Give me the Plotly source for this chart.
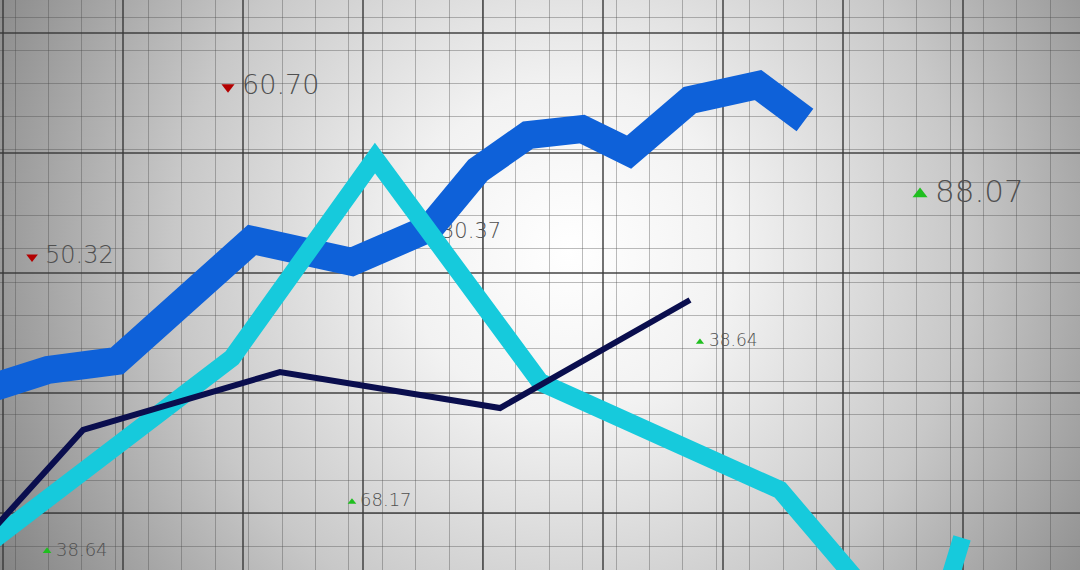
import base64
import plotly.graph_objects as go

# ---- data (chart units) ----
blue_x = [-1.25, 3.75, 9.5, 20.75, 29.08, 35.58, 39.58, 43.75, 48.25, 52.17, 57.25, 62.92, 66.83]
blue_y = [20.33, 21.92, 22.67, 32.75, 30.92, 33.75, 38.58, 41.5, 42.0, 40.08, 44.42, 45.67, 42.75]

cyan_x = [-1.25, 7.25, 19.08, 31.0, 44.75, 64.75, 76.83, 79.92]
cyan_y = [7.42, 14.0, 22.92, 39.58, 20.92, 11.92, -2.25, 7.92]

navy_x = [-1.25, 6.67, 23.08, 41.42, 57.25]
navy_y = [8.17, 16.92, 21.75, 18.75, 27.75]

label_text = ["60.70", "88.07", "50.32", "30.37", "38.64", "68.17", "38.64"]
label_dir = ["down", "up", "down", "up", "up", "up", "up"]
label_x = [19.92, 77.67, 3.5, 36.5, 58.83, 29.75, 4.42]
label_y = [45.5, 36.58, 31.33, 33.33, 24.25, 10.92, 6.83]
marker_x = [18.75, 76.42, 2.42, 35.75, 58.08, 29.08, 3.67]
label_size = [27, 31, 24, 21, 17, 18, 18]

# ---- background radial gradient ----
svg = (
    '<svg xmlns="http://www.w3.org/2000/svg" width="1080" height="570" viewBox="0 0 1080 570">'
    '<defs><radialGradient id="g" cx="570" cy="250" r="660" gradientUnits="userSpaceOnUse">'
    '<stop offset="0" stop-color="#ffffff"/>'
    '<stop offset="0.25" stop-color="#f2f2f2"/>'
    '<stop offset="0.6" stop-color="#c8c8c8"/>'
    '<stop offset="1" stop-color="#828282"/>'
    '</radialGradient></defs>'
    '<rect width="1080" height="570" fill="url(#g)"/></svg>'
)
bg_src = "data:image/svg+xml;base64," + base64.b64encode(svg.encode()).decode()

fig = go.Figure()

# labels (beneath lines)
for i in range(len(label_text)):
    up = label_dir[i] == "up"
    fig.add_trace(go.Scatter(
        x=[marker_x[i]], y=[label_y[i]], mode="markers",
        marker=dict(symbol="triangle-up" if up else "triangle-down",
                    color="#1fbf1f" if up else "#b30000",
                    size=label_size[i] * 0.42),
        hoverinfo="skip", showlegend=False))
    fig.add_trace(go.Scatter(
        x=[label_x[i]], y=[label_y[i]], mode="text", text=[label_text[i]],
        textposition="middle right",
        textfont=dict(family="DejaVu Sans", size=label_size[i], color="#505050", weight=200),
        hoverinfo="skip", showlegend=False))

fig.add_trace(go.Scatter(x=blue_x, y=blue_y, mode="lines",
                         line=dict(color="rgb(14,97,217)", width=28),
                         hoverinfo="skip", showlegend=False))
fig.add_trace(go.Scatter(x=cyan_x, y=cyan_y, mode="lines",
                         line=dict(color="rgb(22,202,220)", width=18),
                         hoverinfo="skip", showlegend=False))
fig.add_trace(go.Scatter(x=navy_x, y=navy_y, mode="lines",
                         line=dict(color="rgb(10,14,78)", width=6),
                         hoverinfo="skip", showlegend=False))

axis_common = dict(showticklabels=False, zeroline=False, showline=False, ticks="")
fig.update_xaxes(range=[-0.25, 89.75], tick0=0, dtick=10, showgrid=True,
                 gridcolor="rgba(55,55,55,0.7)", gridwidth=2,
                 minor=dict(tick0=1.0, dtick=2.783, showgrid=True,
                            gridcolor="rgba(70,70,70,0.36)", gridwidth=1),
                 **axis_common)
fig.update_yaxes(range=[5.25, 52.75], tick0=0, dtick=10, showgrid=True,
                 gridcolor="rgba(55,55,55,0.7)", gridwidth=2,
                 minor=dict(tick0=51.33, dtick=2.76, showgrid=True,
                            gridcolor="rgba(70,70,70,0.36)", gridwidth=1),
                 **axis_common)

fig.update_layout(
    width=1080, height=570,
    margin=dict(l=0, r=0, t=0, b=0),
    paper_bgcolor="#b0b0b0",
    plot_bgcolor="rgba(0,0,0,0)",
    images=[dict(source=bg_src, xref="paper", yref="paper", x=0, y=1,
                 sizex=1, sizey=1, sizing="stretch", layer="below",
                 xanchor="left", yanchor="top")],
)

fig.write_html("out.html", config={"displayModeBar": False, "staticPlot": True},
               post_script="document.body.style.margin='0';document.body.style.overflow='hidden';")
